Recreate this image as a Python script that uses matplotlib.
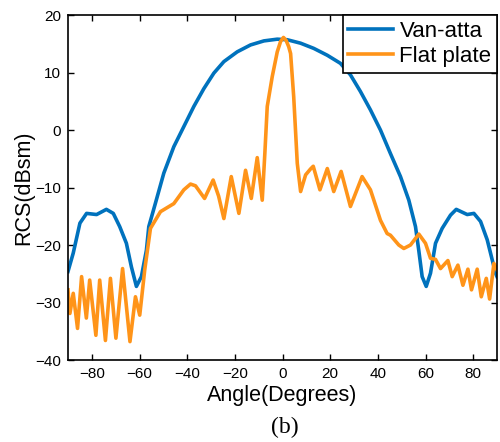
import matplotlib
matplotlib.use("Agg")
import matplotlib.pyplot as plt

van_angle = [-90, -87.8, -85, -82.2, -78, -73.9, -71, -68.3, -65.5, -63.4, -61.3, -59.2, -57.1,
             -56.1, -53.3, -49.8, -45.6, -41.4, -37.2, -33, -28.8, -24.6, -19, -13.4, -7.8, -2.2,
             2, 7.6, 13.1, 18.8, 24.3, 28.5, 32.7, 36.9, 41.1, 45.3, 49.5, 53, 55.8, 57.2, 58.6,
             60.3, 62.1, 64.2, 67, 70.5, 72.9, 77.5, 80.3, 83.1, 85.9, 88, 89.4, 90]
van_rcs = [-24.6, -21.4, -16.2, -14.5, -14.7, -13.8, -14.5, -16.8, -19.7, -23.8, -27.2, -25.5, -20.9,
           -16.8, -12.7, -7.5, -2.9, 0.6, 4.1, 7.2, 9.9, 11.9, 13.6, 14.8, 15.5, 15.8,
           15.7, 15.1, 14.2, 13, 11.6, 9.6, 6.7, 3.5, 0, -4.1, -8.1, -12.2, -16.8, -21, -25.5,
           -27.2, -24.9, -19.7, -17.1, -14.8, -13.8, -14.7, -14.5, -15.9, -19.1, -22.6, -24.9, -25.5]

flat_angle = [-90, -89.2, -87.8, -86, -84.3, -82.3, -80.9, -78.3, -76.7, -74.3, -72.2, -69.9, -67.1,
              -64, -61.7, -59.9, -57.8, -55.4, -51.2, -45.6, -41.4, -38.6, -36.5, -32.7, -29.1,
              -26.8, -24.6, -21.5, -18.3, -15.5, -13.1, -10.6, -8.5, -7.4, -6.4, -4.3, -2.2, -0.8,
              0.4, 1.5, 2.6, 3.4, 4.7, 6.2, 7.6, 9.7, 11.7, 12.9, 15.7, 18.8, 21.5, 24.6, 28.5, 33.4,
              36.9, 41.1, 43.9, 45.3, 48.8, 50.9, 53.7, 57.2, 60, 62.1, 64.2, 66.3, 69.4, 71.2,
              73.6, 75.7, 77.8, 79.3, 81.7, 83.4, 85.5, 86.9, 88.7, 90]
flat_rcs = [-27.8, -31.9, -28.4, -34.5, -25.5, -32.7, -26.1, -35.7, -26.1, -36.6, -25.8, -36.2, -24.1,
            -36.8, -29, -32.2, -24.3, -17.1, -14.2, -12.8, -10.4, -9.4, -9.7, -11.9, -8.7,
            -11.5, -15.4, -8.1, -14.5, -7.0, -11.9, -4.8, -12.2, -4.0, 4.1, 9.3, 13.6, 15.4,
            16.1, 15.6, 14.5, 13.3, 5.8, -5.8, -10.7, -7.8, -6.8, -6.3, -10.4, -6.7, -10.7, -7.2, -13.3, -8.1,
            -10.4, -15.7, -18, -18.3, -20, -20.6, -20, -18.1, -19.7, -22.3, -22.5, -24.1, -22.7, -25.5,
            -23.5, -27, -24.2, -27.8, -24.2, -29, -25.8, -29.4, -23.2, -24.3]

xticks = [-80, -60, -40, -20, 0, 20, 40, 60, 80]
yticks = [-40, -30, -20, -10, 0, 10, 20]

plt.rcParams['font.family'] = ['Liberation Sans', 'DejaVu Sans']

fig = plt.figure(figsize=(5.0, 4.42), dpi=100)
ax = fig.add_axes([0.136, 0.1855, 0.858, 0.7805])

ax.plot(van_angle, van_rcs, color='#0072BD', lw=2.6, label='Van-atta', solid_joinstyle='round')
ax.plot(flat_angle, flat_rcs, color='#FF9419', lw=2.6, label='Flat plate', solid_joinstyle='round')

ax.set_xlim(-90, 90)
ax.set_ylim(-40, 20)
ax.set_xticks(xticks)
ax.set_yticks(yticks)
ax.tick_params(direction='in', top=True, right=True, length=4, width=1,
               labelsize=11, pad=5)
for s in ax.spines.values():
    s.set_linewidth(1.2)

ax.set_xlabel('Angle(Degrees)', fontsize=15.5, labelpad=3)
ax.set_ylabel('RCS(dBsm)', fontsize=15.5, labelpad=1)

leg = ax.legend(loc='upper right', fontsize=16, frameon=True, fancybox=False,
                borderaxespad=0, handlelength=2.0, handletextpad=0.3,
                borderpad=0.25, labelspacing=0.2)
leg.get_frame().set_edgecolor('black')
leg.get_frame().set_linewidth(1.2)
leg.get_frame().set_alpha(1)

fig.text(0.57, 0.008, '(b)', fontsize=17, family='Liberation Serif', ha='center', va='bottom')

fig.savefig('out.png', dpi=100)
